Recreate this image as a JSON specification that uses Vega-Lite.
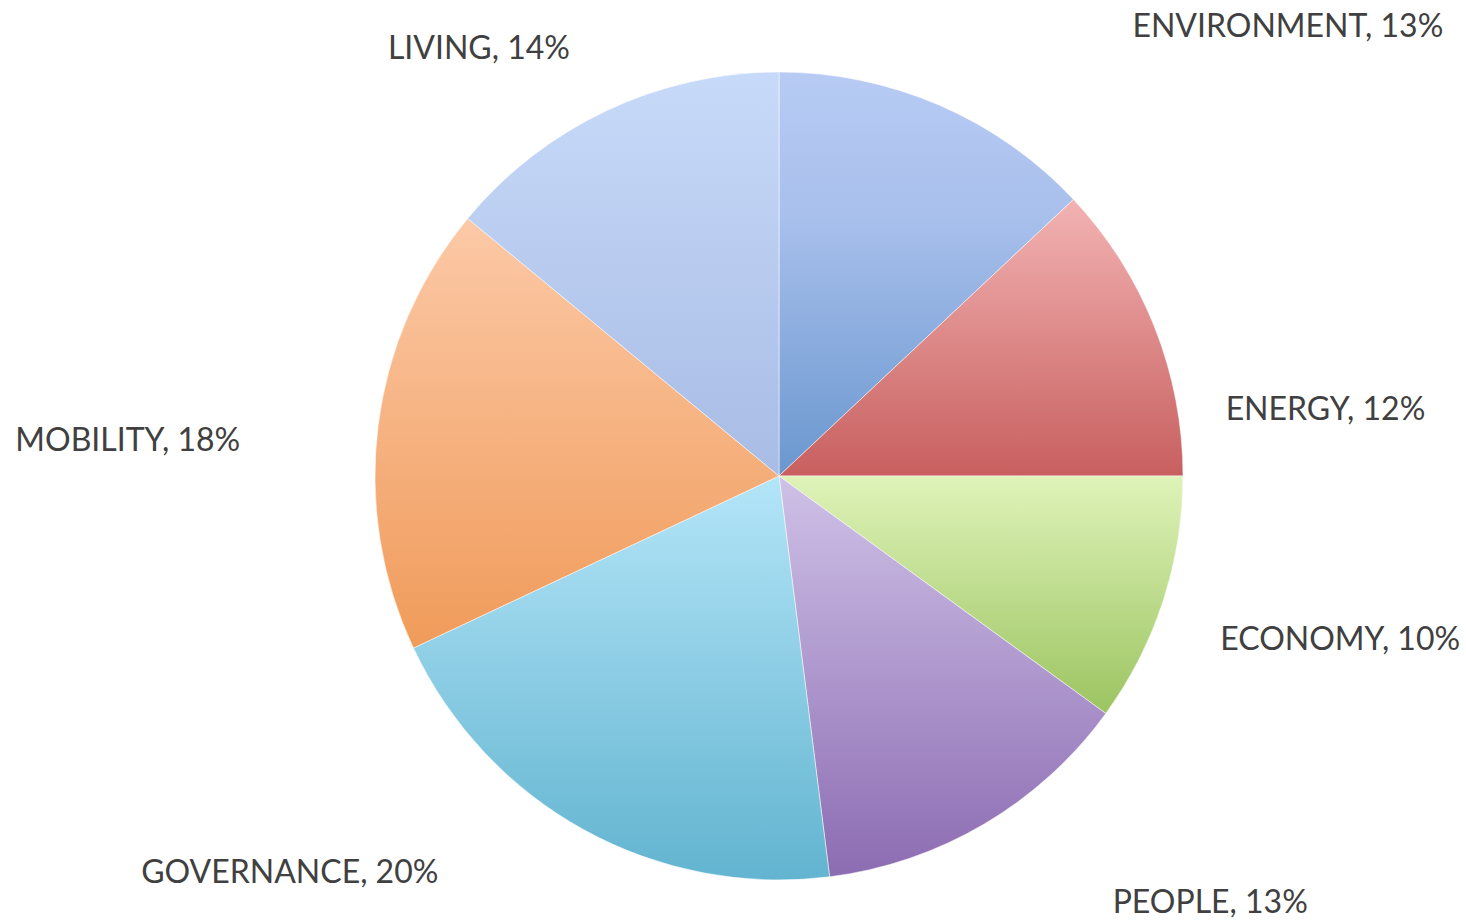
{
  "$schema": "https://vega.github.io/schema/vega-lite/v6.json",
  "width": 1374,
  "height": 894,
  "autosize": "none",
  "padding": {"left": 92, "top": 29, "right": 0, "bottom": 0},
  "background": "white",
  "view": {"stroke": null},
  "data": {
    "values": [
      {"name": "ENVIRONMENT", "value": 13, "order": 1, "label": "ENVIRONMENT, 13%"},
      {"name": "ENERGY", "value": 12, "order": 2, "label": "ENERGY, 12%"},
      {"name": "ECONOMY", "value": 10, "order": 3, "label": "ECONOMY, 10%"},
      {"name": "PEOPLE", "value": 13, "order": 4, "label": "PEOPLE, 13%"},
      {"name": "GOVERNANCE", "value": 20, "order": 5, "label": "GOVERNANCE, 20%"},
      {"name": "MOBILITY", "value": 18, "order": 6, "label": "MOBILITY, 18%"},
      {"name": "LIVING", "value": 14, "order": 7, "label": "LIVING, 14%"}
    ]
  },
  "encoding": {
    "theta": {"field": "value", "type": "quantitative", "stack": true},
    "order": {"field": "order", "type": "quantitative"}
  },
  "layer": [
    {
      "mark": {"type": "arc", "outerRadius": 404, "stroke": "white", "strokeWidth": 1, "strokeOpacity": 0.5},
      "encoding": {
        "color": {
          "condition": [
            {"test": "datum.name === 'ENVIRONMENT'", "value": {"gradient": "linear", "x1": 0, "y1": 0, "x2": 0, "y2": 1, "stops": [{"offset": 0, "color": "#b7cbf4"}, {"offset": 0.35, "color": "#a9c0ec"}, {"offset": 1, "color": "#6a97cf"}]}},
            {"test": "datum.name === 'ENERGY'", "value": {"gradient": "linear", "x1": 0, "y1": 0, "x2": 0, "y2": 1, "stops": [{"offset": 0, "color": "#f3b3b3"}, {"offset": 1, "color": "#c85f5f"}]}},
            {"test": "datum.name === 'ECONOMY'", "value": {"gradient": "linear", "x1": 0, "y1": 0, "x2": 0, "y2": 1, "stops": [{"offset": 0, "color": "#dff3b9"}, {"offset": 1, "color": "#9cc461"}]}},
            {"test": "datum.name === 'PEOPLE'", "value": {"gradient": "linear", "x1": 0, "y1": 0, "x2": 0, "y2": 1, "stops": [{"offset": 0, "color": "#cfc1e7"}, {"offset": 1, "color": "#8c6cb2"}]}},
            {"test": "datum.name === 'GOVERNANCE'", "value": {"gradient": "linear", "x1": 0, "y1": 0, "x2": 0, "y2": 1, "stops": [{"offset": 0, "color": "#b4e5f8"}, {"offset": 1, "color": "#62b4d0"}]}},
            {"test": "datum.name === 'MOBILITY'", "value": {"gradient": "linear", "x1": 0, "y1": 0, "x2": 0, "y2": 1, "stops": [{"offset": 0, "color": "#fcc9a7"}, {"offset": 1, "color": "#f09b5a"}]}}
          ],
          "value": {"gradient": "linear", "x1": 0, "y1": 0, "x2": 0, "y2": 1, "stops": [{"offset": 0, "color": "#c7daf9"}, {"offset": 1, "color": "#a8bce5"}]}
        }
      }
    },
    {
      "mark": {"type": "text", "align": "left", "baseline": "middle", "dx": 193, "dy": -78, "font": "Lato", "fontSize": 32, "fill": "#404040"},
      "encoding": {"radius": {"value": 404}, "text": {"condition": {"test": "datum.name === 'ENVIRONMENT'", "field": "label"}, "value": ""}}
    },
    {
      "mark": {"type": "text", "align": "left", "baseline": "middle", "dx": 71, "dy": 83, "font": "Lato", "fontSize": 32, "fill": "#404040"},
      "encoding": {"radius": {"value": 404}, "text": {"condition": {"test": "datum.name === 'ENERGY'", "field": "label"}, "value": ""}}
    },
    {
      "mark": {"type": "text", "align": "left", "baseline": "middle", "dx": 57, "dy": 39, "font": "Lato", "fontSize": 32, "fill": "#404040"},
      "encoding": {"radius": {"value": 404}, "text": {"condition": {"test": "datum.name === 'ECONOMY'", "field": "label"}, "value": ""}}
    },
    {
      "mark": {"type": "text", "align": "left", "baseline": "middle", "dx": 128, "dy": 79, "font": "Lato", "fontSize": 32, "fill": "#404040"},
      "encoding": {"radius": {"value": 404}, "text": {"condition": {"test": "datum.name === 'PEOPLE'", "field": "label"}, "value": ""}}
    },
    {
      "mark": {"type": "text", "align": "right", "baseline": "middle", "dx": -146, "dy": 43, "font": "Lato", "fontSize": 32, "fill": "#404040"},
      "encoding": {"radius": {"value": 404}, "text": {"condition": {"test": "datum.name === 'GOVERNANCE'", "field": "label"}, "value": ""}}
    },
    {
      "mark": {"type": "text", "align": "right", "baseline": "middle", "dx": -138, "dy": 16, "font": "Lato", "fontSize": 32, "fill": "#404040"},
      "encoding": {"radius": {"value": 404}, "text": {"condition": {"test": "datum.name === 'MOBILITY'", "field": "label"}, "value": ""}}
    },
    {
      "mark": {"type": "text", "align": "right", "baseline": "middle", "dx": -37, "dy": -61, "font": "Lato", "fontSize": 32, "fill": "#404040"},
      "encoding": {"radius": {"value": 404}, "text": {"condition": {"test": "datum.name === 'LIVING'", "field": "label"}, "value": ""}}
    }
  ]
}
